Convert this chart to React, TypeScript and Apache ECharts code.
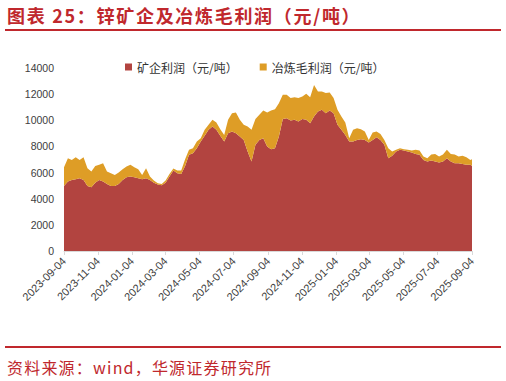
import React, { useEffect, useRef } from 'react';
import * as echarts from 'echarts';

const startDate = '2023-09-04';
const endDate = '2025-09-04';
const tickLabels = [
  '2023-09-04', '2023-11-04', '2024-01-04', '2024-03-04', '2024-05-04', '2024-07-04', '2024-09-04',
  '2024-11-04', '2025-01-04', '2025-03-04', '2025-05-04', '2025-07-04', '2025-09-04',
];
const seriesNames = ['矿企利润（元/吨）', '冶炼毛利润（元/吨）'];
const titleText = '图表 25：锌矿企及冶炼毛利润（元/吨）';
const sourceText = '资料来源：wind，华源证券研究所';

// weekly readings (every 7 days from 2023-09-04), last one on 2025-09-04
const mineProfit = [
  4980, 5310, 5440, 5490, 5570, 5440, 4980, 4880, 5230, 5440,
  5310, 5130, 4980, 4980, 5130, 5440, 5640, 5690, 5640, 5570,
  5490, 5570, 5440, 5230, 5080, 5030, 5230, 5690, 6150, 5950,
  5900, 6510, 7360, 7480, 7860, 8380, 8810, 9270, 9520, 9270,
  8810, 8380, 9010, 9140, 9010, 8760, 8500, 7610, 6840, 8120,
  8500, 8630, 7990, 7790, 7860, 8760, 10090, 10160, 9980, 10035,
  9910, 10090, 10035, 9780, 10290, 10670, 10800, 10545, 10750, 10545,
  9650, 9270, 8880, 8380, 8380, 8500, 8550, 8500, 8300, 8500,
  8710, 8500, 8120, 7100, 7290, 7610, 7740, 7690, 7610, 7530,
  7430, 7360, 6970, 6840, 6920, 6840, 6770, 6840, 7100, 6840,
  6715, 6715, 6660, 6590, 6590, 6510,
];
const smeltMargin = [
  1430, 1790, 1530, 1680, 1400, 1730, 1350, 1200, 1280, 1150,
  1405, 950, 970, 840, 870, 810, 820, 900, 770, 680,
  330, 760, 250, 160, 100, 100, 160, 210, 160, 200,
  250, 510, 380, 380, 520, 250, 460, 380, 515, 560,
  510, 500, 1025, 1405, 1590, 1275, 1150, 1910, 2430, 1970,
  1920, 2120, 2610, 2960, 2990, 2550, 1860, 1790, 1720, 1735,
  1790, 1730, 1995, 1990, 2410, 1530, 1400, 1535, 1380, 1155,
  1150, 1020, 950, 250, 890, 900, 770, 640, 200, 560,
  430, 460, 380, 760, 320, 130, 120, 100, 130, 160,
  310, 330, 260, 260, 460, 590, 460, 540, 640, 590,
  665, 515, 620, 590, 380, 510,
];

function addDays(iso: string, n: number): string {
  const d = new Date(iso + 'T00:00:00Z');
  d.setUTCDate(d.getUTCDate() + n);
  return d.toISOString().slice(0, 10);
}

const allDays: string[] = [];
for (let d = startDate; d <= endDate; d = addDays(d, 1)) allDays.push(d);
const sampleDates: string[] = [];
for (let i = 0; i < mineProfit.length - 1; i++) sampleDates.push(addDays(startDate, 7 * i));
sampleDates.push(endDate);

const RED = '#C0282D';
const CJK = '"Noto Sans CJK SC", sans-serif';

export default function App() {
  const ref = useRef<HTMLDivElement>(null);
  useEffect(() => {
    document.body.style.margin = '0';
    const chart = echarts.init(ref.current!, undefined, { renderer: 'svg' });
    const showTick = (_i: number, v: string) => tickLabels.includes(v);
    chart.setOption({
      animation: false,
      graphic: [
        { type: 'line', shape: { x1: 5, y1: 30, x2: 501, y2: 30 }, style: { stroke: RED, lineWidth: 2 } },
        { type: 'line', shape: { x1: 5, y1: 347, x2: 501, y2: 347 }, style: { stroke: RED, lineWidth: 2 } },
      ],
      legend: {
        left: 120,
        top: 56,
        icon: 'rect',
        itemWidth: 7,
        itemHeight: 7,
        itemGap: 22,
        textStyle: { fontSize: 12, color: '#333', fontFamily: CJK },
        data: seriesNames,
      },
      grid: { left: 64, right: 34, top: 68, bottom: 130, containLabel: false },
      xAxis: {
        type: 'category',
        data: allDays,
        boundaryGap: false,
        axisLine: { lineStyle: { color: '#D9D9D9' } },
        axisTick: { interval: showTick, length: 4, lineStyle: { color: '#D9D9D9' } },
        axisLabel: {
          interval: showTick,
          rotate: 45,
          margin: 8,
          fontSize: 11,
          color: '#404040',
          fontFamily: '"Liberation Sans", Arial, sans-serif',
        },
      },
      yAxis: {
        type: 'value',
        min: 0,
        max: 14000,
        interval: 2000,
        axisLine: { show: false },
        axisTick: { show: false },
        splitLine: { show: false },
        axisLabel: {
          fontSize: 10.5,
          margin: 10,
          color: '#404040',
          fontFamily: '"Liberation Sans", Arial, sans-serif',
          formatter: (v: number) => String(v),
        },
      },
      series: [
        {
          name: seriesNames[0],
          type: 'line',
          stack: 'total',
          showSymbol: false,
          color: '#B24440',
          lineStyle: { width: 0 },
          areaStyle: { color: '#B24440', opacity: 1 },
          data: sampleDates.map((d, i) => [d, mineProfit[i]]),
        },
        {
          name: seriesNames[1],
          type: 'line',
          stack: 'total',
          showSymbol: false,
          color: '#DE9D26',
          lineStyle: { width: 0 },
          areaStyle: { color: '#DE9D26', opacity: 1 },
          data: sampleDates.map((d, i) => [d, smeltMargin[i]]),
        },
      ],
    });
    return () => chart.dispose();
  }, []);
  return (
    <div style={{ position: 'relative', width: 506, height: 381, background: '#fff' }}>
      <div ref={ref} style={{ position: 'absolute', left: 0, top: 0, width: 506, height: 381 }} />
      <div
        style={{
          position: 'absolute', left: 7, top: 5, fontSize: 18, lineHeight: '20px', fontWeight: 'bold',
          letterSpacing: 1.7, color: RED, fontFamily: CJK, whiteSpace: 'nowrap',
        }}
      >
        {titleText}
      </div>
      <div
        style={{
          position: 'absolute', left: 7, top: 357, fontSize: 16, lineHeight: '20px',
          letterSpacing: 1.2, color: RED, fontFamily: CJK, whiteSpace: 'nowrap',
        }}
      >
        {sourceText}
      </div>
    </div>
  );
}
